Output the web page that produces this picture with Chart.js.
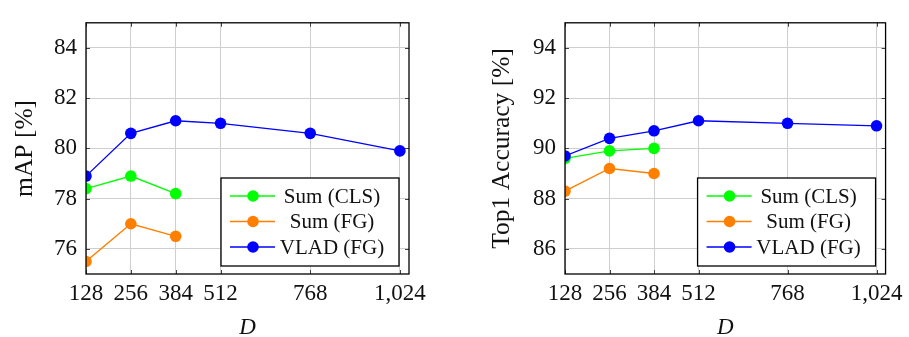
<!DOCTYPE html>
<html>
<head>
<meta charset="utf-8">
<script src="https://cdn.jsdelivr.net/npm/chart.js@4.4.1/dist/chart.umd.min.js"></script>
<style>
  body { margin: 0; background: #fff; }
  .plot { position: absolute; top: 0; }
</style>
</head>
<body>
<div class="plot" style="left:0px"><canvas id="mapChart" width="450" height="337"></canvas></div>
<div class="plot" style="left:455px"><canvas id="topChart" width="454" height="337"></canvas></div>
<script>
// x values (embedding dimension D)
const dims = [128, 256, 384, 512, 768, 1024];
const dimsShort = [128, 256, 384];
const seriesLabels = ['Sum (CLS)', 'Sum (FG)', 'VLAD (FG)'];
const seriesColors = ['#00ff00', '#ff8000', '#0000ff'];

// mAP [%]
const mapSumCls = [78.4, 78.9, 78.2];
const mapSumFg = [75.5, 77.0, 76.5];
const mapVlad = [78.9, 80.6, 81.1, 81.0, 80.6, 79.9];
const mapTicks = [76, 78, 80, 82, 84];

// Top1 accuracy [%]
const topSumCls = [89.6, 89.9, 90.0];
const topSumFg = [88.3, 89.2, 89.0];
const topVlad = [89.7, 90.4, 90.7, 91.1, 91.0, 90.9];
const topTicks = [86, 88, 90, 92, 94];

const FONT = "'Liberation Serif', 'Times New Roman', serif";

function toPoints(xs, ys) {
    return ys.map((y, i) => ({ x: xs[i], y: y }));
}

// box frame, inner tick marks and the legend inside the plot area
const framePlugin = {
    id: 'frame',
    afterDraw(chart) {
        const ctx = chart.ctx;
        const a = chart.chartArea;
        const xs = chart.scales.x, ys = chart.scales.y;
        ctx.save();
        ctx.strokeStyle = '#444';
        ctx.lineWidth = 1;
        ctx.beginPath();
        xs.ticks.forEach(t => {
            const px = Math.round(xs.getPixelForValue(t.value)) + 0.5;
            ctx.moveTo(px, a.bottom); ctx.lineTo(px, a.bottom - 4);
            ctx.moveTo(px, a.top); ctx.lineTo(px, a.top + 4);
        });
        ys.ticks.forEach(t => {
            const py = Math.round(ys.getPixelForValue(t.value)) + 0.5;
            ctx.moveTo(a.left, py); ctx.lineTo(a.left + 4, py);
            ctx.moveTo(a.right, py); ctx.lineTo(a.right - 4, py);
        });
        ctx.stroke();

        ctx.strokeStyle = '#000';
        ctx.lineWidth = 1.3;
        ctx.strokeRect(a.left, a.top, a.right - a.left, a.bottom - a.top);

        // legend
        const w = 178, h = 88;
        const bx = a.right - 10 - w, by = a.bottom - 8 - h;
        ctx.fillStyle = '#fff';
        ctx.fillRect(bx, by, w, h);
        ctx.strokeStyle = '#000';
        ctx.lineWidth = 1.3;
        ctx.strokeRect(bx, by, w, h);
        ctx.font = '21px ' + FONT;
        ctx.textAlign = 'center';
        ctx.textBaseline = 'middle';
        chart.data.datasets.forEach((ds, i) => {
            const ry = by + 18 + i * 25.5;
            ctx.strokeStyle = ds.borderColor;
            ctx.lineWidth = 1.3;
            ctx.beginPath();
            ctx.moveTo(bx + 9, ry); ctx.lineTo(bx + 54, ry);
            ctx.stroke();
            ctx.fillStyle = ds.backgroundColor;
            ctx.beginPath();
            ctx.arc(bx + 32, ry, 5.8, 0, Math.PI * 2);
            ctx.fill();
            ctx.fillStyle = '#111';
            ctx.fillText(ds.label, bx + 111, ry + 1);
        });
        ctx.restore();
    }
};

function makeChart(id, ySeries, yTicks, yTitle, yAxisWidth, rightPad, titlePad) {
    const ctx = document.getElementById(id);
    const xsList = [dimsShort, dimsShort, dims];
    new Chart(ctx, {
        type: 'line',
        data: {
            datasets: ySeries.map((vals, i) => ({
                label: seriesLabels[i],
                data: toPoints(xsList[i], vals),
                borderColor: seriesColors[i],
                backgroundColor: seriesColors[i],
                pointBackgroundColor: seriesColors[i],
                pointBorderWidth: 0,
                pointRadius: 5.8,
                borderWidth: 1.3,
                tension: 0,
                order: 2 - i
            }))
        },
        options: {
            responsive: false,
            animation: false,
            layout: { padding: { top: 12, right: rightPad, left: 0, bottom: 0 } },
            plugins: { legend: { display: false }, tooltip: { enabled: false } },
            scales: {
                x: {
                    type: 'linear',
                    min: 128,
                    max: 1050,
                    afterBuildTicks: (scale) => { scale.ticks = dims.map(v => ({ value: v })); },
                    afterFit: (scale) => { scale.height = 63; },
                    grid: { color: '#cfcfcf', drawTicks: false },
                    border: { display: false },
                    ticks: {
                        color: '#111',
                        padding: 6,
                        maxRotation: 0,
                        font: { family: FONT, size: 23 },
                        callback: (v) => v.toLocaleString('en-US')
                    },
                    title: {
                        display: true,
                        text: 'D',
                        color: '#111',
                        padding: { top: 0, bottom: 0 },
                        font: { family: FONT, size: 23, style: 'italic', lineHeight: 0.75 }
                    }
                },
                y: {
                    min: yTicks[0] - 1,
                    max: yTicks[yTicks.length - 1] + 1,
                    afterBuildTicks: (scale) => { scale.ticks = yTicks.map(v => ({ value: v })); },
                    afterFit: (scale) => { scale.width = yAxisWidth; },
                    grid: { color: '#cfcfcf', drawTicks: false },
                    border: { display: false },
                    ticks: {
                        color: '#111',
                        padding: 9,
                        font: { family: FONT, size: 23 }
                    },
                    title: {
                        display: true,
                        text: yTitle,
                        color: '#111',
                        padding: { top: titlePad, bottom: 0 },
                        font: { family: FONT, size: 25.5, lineHeight: 1 }
                    }
                }
            }
        },
        plugins: [framePlugin]
    });
}

makeChart('mapChart', [mapSumCls, mapSumFg, mapVlad], mapTicks, 'mAP [%]', 86, 41, 13);
makeChart('topChart', [topSumCls, topSumFg, topVlad], topTicks, 'Top1 Accuracy [%]', 110, 21, 35);
</script>
</body>
</html>
